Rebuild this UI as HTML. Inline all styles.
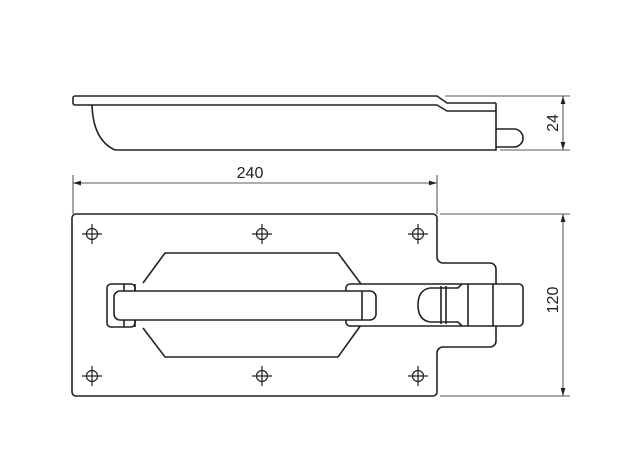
<!DOCTYPE html>
<html><head><style>body{margin:0;background:#fff}svg{display:block}</style></head><body>
<svg width="640" height="465" viewBox="0 0 640 465" xmlns="http://www.w3.org/2000/svg" fill="none" stroke="#222" stroke-width="1.6" font-family="Liberation Sans, sans-serif">
<defs><marker id="a" viewBox="0 0 10 6" refX="10" refY="3" markerWidth="10" markerHeight="6" orient="auto-start-reverse"><path d="M0,0 L10,3 L0,6 z" fill="#222" stroke="none"/></marker></defs>
<path d="M75,96 H437 L447,103 H496 M75,96 a2,2 0 0 0 -2,2 V103 a2,2 0 0 0 2,2 H437 L447,111 H496 M496,103 V150 H115 Q93,140 92,105"/>
<path d="M496,129 H514 a9,9 0 0 1 0,18 H496"/>
<g stroke-width="0.8">
<path d="M445,96 H570 M500,150 H570"/>
<line x1="563" y1="96" x2="563" y2="150" marker-start="url(#a)" marker-end="url(#a)"/>
<path d="M73,175 V214 M437,175 V214"/>
<line x1="73" y1="183" x2="437" y2="183" marker-start="url(#a)" marker-end="url(#a)"/>
<path d="M440,214 H570 M440,396 H570"/>
<line x1="563" y1="214" x2="563" y2="396" marker-start="url(#a)" marker-end="url(#a)"/>
</g>
<g fill="#222" stroke="none" font-size="16">
<text x="250" y="178" text-anchor="middle">240</text>
<text transform="translate(558,123) rotate(-90)" text-anchor="middle">24</text>
<text transform="translate(558,300) rotate(-90)" text-anchor="middle">120</text>
</g>
<path d="M76,214 H433 a4,4 0 0 1 4,4 V257 a6,6 0 0 0 6,6 H490 a6,6 0 0 1 6,6 V341 a6,6 0 0 1 -6,6 H443 a6,6 0 0 0 -6,6 V392 a4,4 0 0 1 -4,4 H76 a4,4 0 0 1 -4,-4 V218 a4,4 0 0 1 4,-4 z"/>
<g stroke-width="1.2">
<g id="h"><circle cx="92" cy="234" r="5.5"/><path d="M82,234 H102 M92,224 V244"/></g>
<use href="#h" x="170"/><use href="#h" x="326"/>
<use href="#h" y="142"/><use href="#h" x="170" y="142"/><use href="#h" x="326" y="142"/>
</g>
<path d="M143,283 L165,253 H338 L361,284 M143,328 L165,357 H338 L361,325"/>
<rect x="107" y="284" width="28" height="43" rx="4" fill="#fff"/>
<path d="M124,284 V327 M135,284 V327"/>
<rect x="346" y="284" width="177" height="42" rx="4" fill="#fff"/>
<rect x="114" y="291" width="262" height="29" rx="6" fill="#fff"/>
<path d="M362,291 V320"/>
<path d="M430,288 H458 L462,284 M430,322 H458 L462,326 M430,288 Q418,290 418,305 Q418,320 430,322 M441,286 V324 M446,286 V324 M468,284 V326 M493,284 V326"/>
</svg>
</body></html>
